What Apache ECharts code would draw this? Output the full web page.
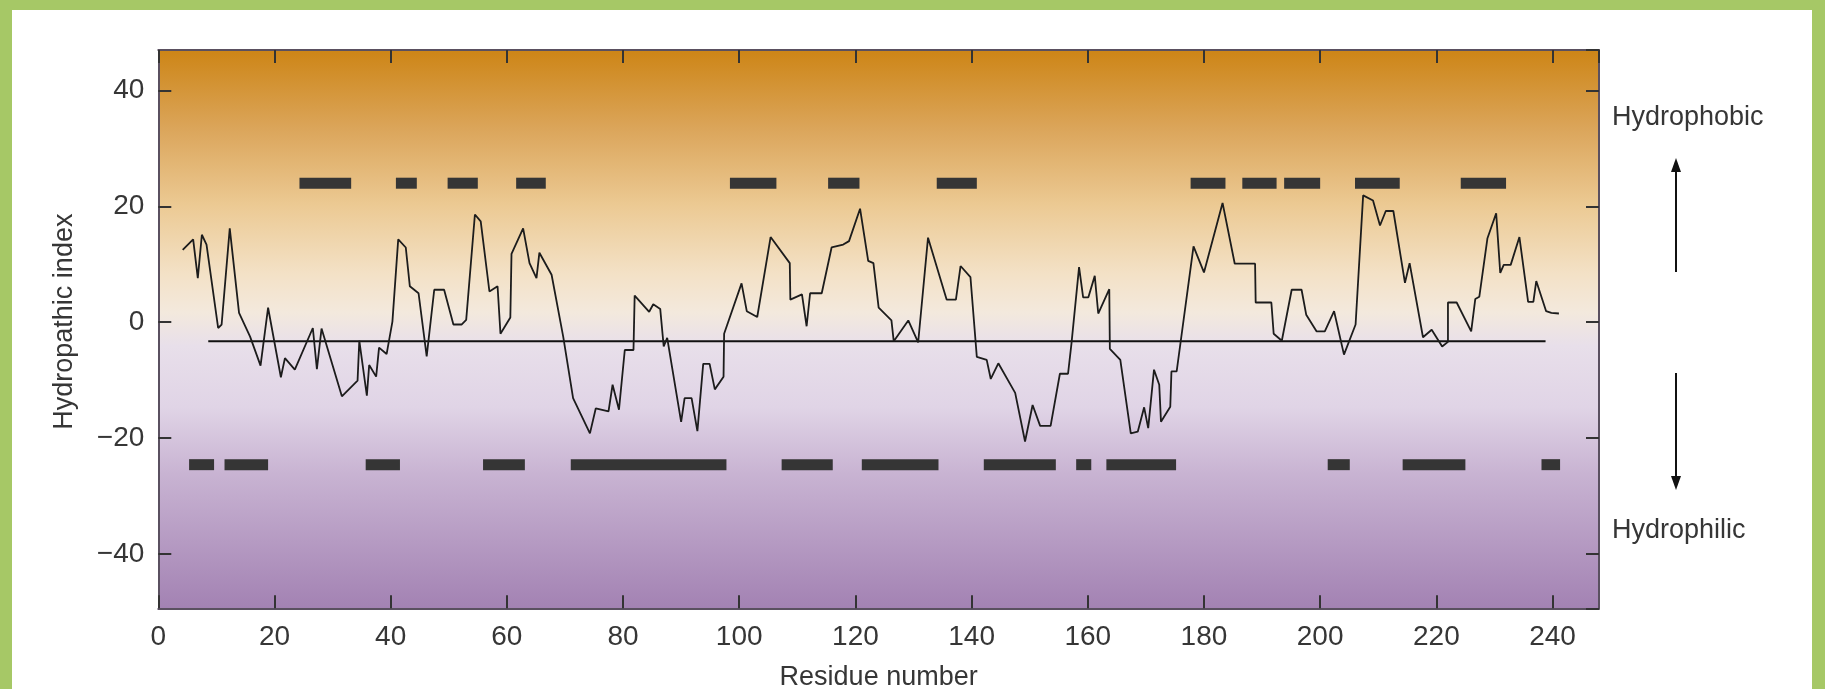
<!DOCTYPE html>
<html>
<head>
<meta charset="utf-8">
<script src="https://cdn.jsdelivr.net/npm/echarts@6/dist/echarts.min.js"></script>
<style>
  html, body { margin: 0; padding: 0; }
  body { width: 1825px; height: 689px; background: #a6c866; position: relative; overflow: hidden; }
  #panel { position: absolute; left: 12px; top: 10px; width: 1800px; height: 679px; background: #fff; }
  #main { position: absolute; left: 0; top: 0; width: 1825px; height: 689px; }
</style>
</head>
<body>
<div id="panel"></div>
<div id="main"></div>
<script>
// hydropathy profile
var residue = [4.2, 6.0, 6.8, 7.5, 8.3, 10.3, 10.9, 12.3, 13.9, 15.8, 17.6, 18.9, 21.1, 21.8, 23.5,
  26.6, 27.3, 28.1, 31.6, 34.3, 34.6, 35.9, 36.3, 37.5, 38.0, 39.3, 40.3, 41.3, 42.6, 43.3,
  44.8, 46.2, 47.5, 49.2, 50.8, 52.2, 53.0, 54.5, 55.5, 57.0, 58.4, 58.9, 60.6, 60.8, 62.8,
  63.9, 65.1, 65.6, 67.7, 69.7, 71.4, 74.3, 75.3, 77.5, 78.2, 79.3, 80.3, 81.8, 82.0, 84.5,
  85.2, 86.4, 87.0, 87.6, 90.0, 90.6, 91.8, 92.8, 93.8, 94.9, 95.8, 97.3, 97.4, 100.4, 101.3,
  103.1, 105.4, 108.7, 108.8, 110.8, 111.6, 112.2, 114.2, 115.9, 117.9, 118.9, 120.8, 122.2, 123.1, 124.0,
  126.2, 126.6, 129.1, 130.8, 132.5, 135.7, 137.3, 138.1, 139.8, 140.9, 142.6, 143.3, 144.6, 147.5, 149.2,
  150.5, 151.8, 153.6, 155.2, 156.6, 157.2, 158.5, 159.2, 160.1, 161.2, 161.8, 163.7, 163.8, 165.6, 167.4,
  168.6, 169.7, 170.4, 171.4, 172.3, 172.6, 174.2, 174.4, 175.3, 178.2, 180.0, 183.2, 185.3, 188.8, 188.9,
  191.6, 192.0, 193.4, 195.1, 196.8, 197.6, 199.4, 200.8, 202.4, 204.1, 206.1, 207.4, 209.1, 210.3, 211.3,
  212.6, 214.6, 215.4, 217.7, 219.2, 221.0, 222.0, 222.0, 223.5, 226.0, 226.7, 227.4, 228.8, 230.3, 231.0,
  231.6, 232.8, 234.3, 235.8, 236.7, 237.2, 238.9, 239.8, 241.1];
var hydropathy = [12.5, 14.3, 7.6, 15.1, 13.4, -1.0, -0.4, 16.2, 1.6, -2.5, -7.5, 2.5, -9.5, -6.2, -8.2,
  -1.0, -8.1, -1.1, -12.8, -10.1, -3.2, -12.7, -7.4, -9.4, -4.4, -5.5, 0.1, 14.3, 12.9, 6.2,
  5.0, -5.9, 5.6, 5.6, -0.4, -0.4, 0.4, 18.6, 17.4, 5.3, 6.2, -2.0, 0.8, 11.8, 16.2,
  10.2, 7.6, 12.0, 8.2, -2.5, -13.1, -19.2, -14.9, -15.4, -10.8, -15.1, -4.8, -4.8, 4.6, 1.8,
  3.1, 2.3, -4.2, -2.7, -17.2, -13.1, -13.1, -18.8, -7.2, -7.2, -11.6, -9.4, -2.0, 6.7, 1.9,
  0.9, 14.7, 10.2, 3.9, 4.8, -0.7, 5.0, 5.0, 12.9, 13.4, 14.0, 19.6, 10.6, 10.2, 2.5,
  0.3, -3.3, 0.3, -3.5, 14.6, 3.9, 3.9, 9.7, 7.8, -6.0, -6.5, -9.8, -7.1, -12.2, -20.6,
  -14.3, -17.9, -17.9, -8.9, -8.9, -3.6, 9.5, 4.3, 4.3, 8.0, 1.5, 5.7, -4.6, -6.5, -19.2,
  -18.9, -14.7, -18.3, -8.2, -10.8, -17.2, -14.6, -8.5, -8.5, 13.1, 8.6, 20.6, 10.1, 10.1, 3.4,
  3.4, -2.0, -3.2, 5.6, 5.6, 1.3, -1.6, -1.6, 1.9, -5.6, -0.4, 21.9, 21.0, 16.7, 19.2,
  19.2, 6.8, 10.2, -2.6, -1.3, -4.2, -3.4, 3.4, 3.4, -1.6, 4.0, 4.4, 14.5, 18.8, 8.5,
  9.9, 9.9, 14.7, 3.5, 3.5, 7.1, 1.9, 1.6, 1.5];

// average line
var meanStart = 8.6, meanEnd = 238.8, meanValue = -3.3;

// segment bars: [start, end]
var upperLevel = 24;
var upperSegments = [[24.3, 33.2], [40.9, 44.5], [49.8, 55.0], [61.6, 66.7], [98.4, 106.4], [115.3, 120.7],
  [134.0, 140.9], [177.7, 183.7], [186.6, 192.5], [193.8, 200.0], [206.0, 213.7], [224.2, 232.0]];
var lowerLevel = -24.6;
var lowerSegments = [[5.3, 9.6], [11.4, 18.9], [35.7, 41.6], [55.9, 63.1], [71.0, 97.8], [107.3, 116.1],
  [121.1, 134.3], [142.1, 154.5], [158.0, 160.6], [163.2, 175.2], [201.3, 205.1], [214.2, 225.0], [238.1, 241.3]];

var xMin = 0, xMax = 248, yMin = -49.4, yMax = 47;

var profile = [];
for (var i = 0; i < residue.length; i++) profile.push([residue[i], hydropathy[i]]);
var bars = [];
upperSegments.forEach(function (s) { bars.push([s[0], s[1], upperLevel]); });
lowerSegments.forEach(function (s) { bars.push([s[0], s[1], lowerLevel]); });

var font = 'Liberation Sans, Arial, sans-serif';
var txt = '#363636';
var minus = function (v) { return String(v).replace('-', '\u2212'); };

var chart = echarts.init(document.getElementById('main'));
var tickStyle = { show: true, inside: true, length: 13, lineStyle: { color: '#333', width: 2 } };
var lineSty = { show: true, onZero: false, lineStyle: { color: '#5a5060', width: 2 } };

chart.setOption({
  animation: false,
  backgroundColor: 'transparent',
  grid: {
    left: 158.3, right: 226, top: 50, bottom: 80.7,
    outerBoundsMode: 'none',
    show: true, borderWidth: 0,
    backgroundColor: {
      type: 'linear', x: 0, y: 0, x2: 0, y2: 1,
      colorStops: [
        { offset: 0, color: '#cd8516' },
        { offset: 0.14, color: '#dba55a' },
        { offset: 0.28, color: '#ecca94' },
        { offset: 0.40, color: '#f3e1c6' },
        { offset: 0.47, color: '#f3e9dd' },
        { offset: 0.53, color: '#e8dfea' },
        { offset: 0.64, color: '#e0d4e6' },
        { offset: 0.76, color: '#c8b3d2' },
        { offset: 1, color: '#a382b3' }
      ]
    }
  },
  xAxis: [{
    type: 'value', min: xMin, max: xMax, minInterval: 20, maxInterval: 20,
    name: 'Residue number', nameLocation: 'middle', nameGap: 56,
    nameTextStyle: { fontFamily: font, fontSize: 27, color: txt },
    axisLine: lineSty, axisTick: tickStyle, splitLine: { show: false },
    axisLabel: { fontFamily: font, fontSize: 28, color: txt, margin: 15, showMaxLabel: false }
  }, {
    type: 'value', position: 'top', min: xMin, max: xMax, minInterval: 20, maxInterval: 20,
    axisLine: lineSty, axisTick: tickStyle, splitLine: { show: false }, axisLabel: { show: false }
  }],
  yAxis: [{
    type: 'value', min: yMin, max: yMax, minInterval: 20, maxInterval: 20,
    name: 'Hydropathic index', nameLocation: 'middle', nameGap: 80, nameRotate: 90,
    nameTextStyle: { fontFamily: font, fontSize: 27, color: txt, padding: [0, 0, 0, 15] },
    axisLine: lineSty, axisTick: tickStyle, splitLine: { show: false },
    axisLabel: { fontFamily: font, fontSize: 28, color: txt, margin: 14, showMinLabel: false, showMaxLabel: false, formatter: minus }
  }, {
    type: 'value', position: 'right', min: yMin, max: yMax, minInterval: 20, maxInterval: 20,
    axisLine: lineSty, axisTick: tickStyle, splitLine: { show: false }, axisLabel: { show: false }
  }],
  series: [{
    type: 'custom',
    data: bars,
    encode: { x: [0, 1], y: 2 },
    renderItem: function (params, api) {
      var a = api.coord([api.value(0), api.value(2)]);
      var b = api.coord([api.value(1), api.value(2)]);
      return { type: 'rect', shape: { x: a[0], y: a[1] - 5.5, width: b[0] - a[0], height: 11 }, style: { fill: '#353535' } };
    },
    z: 2
  }, {
    type: 'line',
    data: [[meanStart, meanValue], [meanEnd, meanValue]],
    showSymbol: false,
    lineStyle: { color: '#111', width: 2 },
    z: 3
  }, {
    type: 'line',
    data: profile,
    showSymbol: false,
    lineStyle: { color: '#1c1c1c', width: 1.8 },
    z: 4
  }],
  graphic: [
    { type: 'text', left: 1612, top: 104, style: { text: 'Hydrophobic', font: '27px ' + font, fill: txt } },
    { type: 'text', left: 1612, top: 517, style: { text: 'Hydrophilic', font: '27px ' + font, fill: txt } },
    { type: 'line', shape: { x1: 1676, y1: 272, x2: 1676, y2: 168 }, style: { stroke: '#111', lineWidth: 2 } },
    { type: 'polygon', shape: { points: [[1676, 158], [1671, 172], [1681, 172]] }, style: { fill: '#111' } },
    { type: 'line', shape: { x1: 1676, y1: 373, x2: 1676, y2: 480 }, style: { stroke: '#111', lineWidth: 2 } },
    { type: 'polygon', shape: { points: [[1676, 490], [1671, 476], [1681, 476]] }, style: { fill: '#111' } }
  ]
});
</script>
</body>
</html>
